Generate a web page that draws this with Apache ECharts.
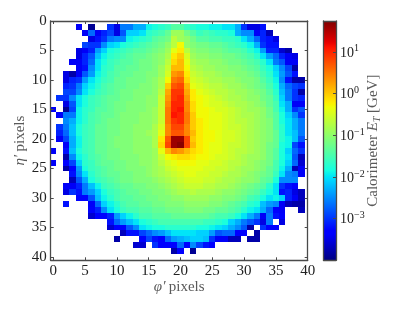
<!DOCTYPE html>
<html><head><meta charset="utf-8">
<style>html,body{margin:0;padding:0;background:#fff}#c{width:399px;height:309px}</style>
<script src="https://cdn.jsdelivr.net/npm/echarts@6/dist/echarts.min.js"></script>
</head><body><div id="c"></div>
<script>
const _ = null;
// log10(ET / GeV) x 10, one array per image row (row index = position + 1), column index = array index
const row01=[_,_,_,_,-34,_,-39,_,_,-30,-35,-26,-26,-23,-23,-19,-18,-17,-16,-14,-14,-16,-17,-18,-18,-19,-19,-20,-20,-23,-30,-35,-35,-32];
const row02=[_,_,_,_,_,-34,-27,-34,-31,-29,-35,-28,-21,-21,-20,-17,-16,-15,-13,-9,-9,-12,-14,-16,-15,-16,-17,-17,-18,-23,-25,-25,-34,-31,-37];
const row03=[_,_,_,_,_,_,-35,-32,-30,-26,-25,-25,-19,-18,-17,-16,-14,-13,-12,-7,-9,-10,-12,-14,-14,-15,-15,-16,-16,-17,-20,-23,-27,-31,-32,-35];
const row04=[_,_,_,_,_,-29,-30,-30,-25,-21,-20,-18,-17,-16,-15,-14,-13,-12,-10,-7,-3,-10,-11,-12,-12,-13,-13,-14,-15,-16,-17,-19,-23,-30,-32,-32];
const row05=[_,_,_,_,-35,-34,-31,-24,-21,-18,-17,-16,-15,-14,-14,-13,-12,-11,-9,-4,-2,-7,-10,-11,-11,-12,-12,-13,-14,-14,-15,-17,-19,-24,-31,-31,-36,-38];
const row06=[_,_,_,_,-35,-31,-28,-22,-19,-17,-16,-15,-14,-13,-13,-12,-11,-10,-8,-2,0,-5,-9,-10,-10,-11,-11,-12,-12,-13,-14,-15,-17,-20,-24,-27,-31,-34,-35];
const row07=[_,_,_,-34,-34,-31,-27,-20,-18,-16,-15,-14,-14,-13,-12,-12,-11,-10,-7,-1,1,-4,-8,-9,-9,-10,-10,-11,-12,-12,-13,-14,-15,-17,-20,-26,-28,-34,-34];
const row08=[_,_,_,_,-34,-32,-25,-20,-17,-16,-14,-14,-13,-13,-12,-12,-11,-9,-6,1,1,-3,-7,-8,-9,-9,-10,-10,-11,-11,-12,-13,-14,-16,-18,-21,-25,-29,-38];
const row09=[_,_,-35,-38,-34,-28,-24,-19,-17,-15,-14,-13,-13,-12,-12,-11,-11,-9,-5,3,4,-2,-6,-7,-8,-8,-9,-10,-10,-11,-11,-12,-13,-15,-17,-20,-24,-28,-32];
const row10=[_,_,-35,-31,-30,-24,-20,-18,-16,-15,-13,-13,-12,-12,-12,-11,-10,-8,-3,5,6,-1,-5,-6,-7,-8,-8,-9,-9,-10,-11,-11,-12,-14,-16,-19,-25,-32,-38,-38];
const row11=[_,_,-31,-30,-26,-21,-19,-17,-15,-14,-13,-13,-12,-12,-11,-11,-10,-8,0,7,8,1,-4,-5,-6,-7,-7,-8,-9,-9,-10,-11,-12,-13,-15,-18,-23,-27,-29,-30];
const row12=[_,_,-29,-29,-25,-20,-18,-16,-15,-14,-13,-12,-12,-11,-11,-11,-10,-7,2,9,9,2,-2,-4,-5,-6,-7,-7,-8,-9,-9,-10,-11,-12,-14,-17,-22,-26,-30,-38];
const row13=[_,-30,-30,-25,-20,-18,-16,-15,-14,-13,-13,-12,-12,-11,-11,-10,-10,-6,3,9,10,3,-2,-3,-4,-5,-6,-7,-8,-8,-9,-10,-10,-12,-13,-16,-21,-26,-30,-31];
const row14=[_,_,-35,-28,-20,-18,-16,-15,-14,-13,-12,-12,-11,-11,-11,-10,-10,-6,4,10,10,4,-1,-3,-4,-5,-5,-6,-7,-8,-8,-9,-10,-11,-13,-15,-20,-23,-34,-34];
const row15=[-34,_,-39,-29,-19,-17,-16,-14,-14,-13,-12,-12,-11,-11,-11,-10,-9,-6,5,10,11,4,-1,-3,-3,-4,-5,-5,-6,-7,-8,-9,-9,-10,-12,-15,-19,-23,-30,-28];
const row16=[_,-34,-26,-26,-19,-17,-15,-14,-13,-13,-12,-11,-11,-11,-10,-10,-9,-6,5,11,10,5,0,-3,-3,-4,-4,-5,-6,-7,-8,-8,-9,-10,-12,-14,-18,-21,-25,-30];
const row17=[_,_,-25,-23,-19,-17,-15,-14,-13,-12,-12,-11,-11,-11,-10,-10,-9,-6,5,9,10,5,0,-2,-3,-4,-4,-5,-6,-7,-7,-8,-9,-10,-11,-14,-18,-20,-23,-26];
const row18=[_,-30,-26,-22,-18,-16,-15,-13,-13,-12,-12,-11,-11,-10,-10,-10,-8,-5,4,8,8,4,0,-2,-3,-4,-4,-5,-6,-6,-7,-8,-9,-10,-11,-14,-17,-20,-23,-26];
const row19=[_,-31,-27,-22,-18,-16,-15,-13,-13,-12,-12,-11,-11,-10,-10,-9,-8,-4,4,7,7,4,1,-2,-3,-3,-4,-5,-5,-6,-7,-8,-9,-10,-11,-13,-17,-20,-22,-26];
const row20=[_,-34,-29,-23,-19,-16,-15,-13,-13,-12,-11,-11,-11,-10,-10,-10,-8,-2,7,16,16,8,0,-2,-3,-3,-4,-5,-5,-6,-7,-8,-9,-10,-11,-13,-17,-19,-22,-28];
const row21=[_,_,-34,-23,-19,-16,-15,-13,-13,-12,-11,-11,-11,-10,-10,-10,-8,-1,8,16,17,8,1,-2,-3,-4,-4,-5,-6,-6,-7,-8,-9,-10,-12,-13,-18,-19,-29,-32];
const row22=[-34,_,-32,-22,-18,-16,-15,-13,-13,-12,-12,-11,-11,-10,-10,-10,-9,-4,1,4,3,1,-1,-2,-3,-4,-4,-5,-6,-7,-7,-8,-9,-10,-12,-14,-18,-21,-27,-30];
const row23=[_,_,-38,-25,-19,-17,-15,-14,-13,-12,-12,-11,-11,-11,-10,-10,-9,-6,-3,-2,-1,-1,-2,-3,-3,-4,-5,-5,-6,-7,-8,-9,-9,-10,-12,-14,-18,-20,-28,-37];
const row24=[-34,_,-33,-29,-21,-17,-16,-14,-13,-13,-12,-12,-11,-11,-10,-10,-9,-7,-5,-4,-3,-3,-3,-4,-4,-5,-5,-6,-7,-7,-8,-9,-10,-11,-12,-15,-18,-21,-27,-36];
const row25=[_,_,-38,-33,-24,-18,-16,-15,-14,-13,-12,-12,-11,-11,-11,-10,-9,-8,-6,-5,-4,-4,-4,-4,-5,-5,-6,-6,-7,-8,-9,-9,-10,-11,-13,-15,-19,-23,-37,-34];
const row26=[_,_,_,-32,-25,-20,-17,-15,-14,-13,-13,-12,-12,-11,-11,-10,-9,-8,-7,-6,-5,-4,-4,-5,-5,-6,-6,-7,-8,-8,-9,-10,-11,-12,-13,-16,-20,-25,-26,-34];
const row27=[_,_,_,-37,-28,-23,-18,-16,-15,-14,-13,-12,-12,-11,-11,-11,-10,-9,-8,-7,-6,-5,-5,-5,-6,-6,-7,-8,-8,-9,-10,-10,-11,-13,-14,-18,-25,-25,-25];
const row28=[_,_,-34,-34,-31,-26,-22,-19,-16,-15,-14,-13,-13,-12,-12,-11,-11,-10,-9,-8,-7,-6,-6,-6,-7,-7,-8,-8,-9,-10,-11,-12,-13,-14,-17,-20,-30,-32,-33];
const row29=[_,_,-35,-30,-32,-26,-24,-21,-18,-16,-15,-14,-13,-13,-12,-12,-11,-11,-10,-9,-8,-8,-7,-8,-8,-8,-9,-10,-10,-11,-12,-13,-14,-16,-18,-20,-32,-31,-35,-37];
const row30=[_,_,_,_,-33,-33,-28,-22,-19,-17,-15,-14,-14,-13,-13,-12,-12,-11,-11,-10,-10,-9,-9,-9,-9,-10,-10,-11,-11,-12,-13,-15,-16,-18,-20,-19,-21,-31,-34,-37];
const row31=[_,_,-32,_,_,_,-34,-27,-21,-19,-17,-15,-14,-14,-13,-13,-12,-12,-11,-11,-11,-10,-10,-10,-10,-11,-11,-12,-13,-14,-15,-17,-18,-22,-24,-25,-34,-37,-38,-38];
const row32=[_,_,_,_,_,_,-33,-31,-25,-20,-18,-16,-15,-15,-14,-14,-13,-13,-12,-12,-12,-11,-11,-11,-12,-12,-13,-13,-14,-15,-17,-19,-20,-23,-27,-33,-34,_,_,-37];
const row33=[_,_,_,_,_,_,-36,-33,-33,-31,-24,-21,-19,-17,-15,-15,-14,-14,-14,-13,-13,-13,-13,-13,-13,-14,-15,-15,-16,-18,-20,-23,-26,-34,-26,-32,-33];
const row34=[_,_,_,_,_,_,_,_,_,-32,-27,-24,-22,-20,-18,-17,-16,-15,-15,-15,-15,-15,-15,-15,-16,-16,-17,-18,-21,-23,-26,-28,-30,-35,-26,_,-35];
const row35=[_,_,_,_,_,_,_,_,_,-36,-33,-33,-28,-25,-20,-19,-18,-18,-17,-17,-17,-17,-17,-18,-18,-19,-20,-21,-23,-25,-28,-38,_,-30,-33,-33];
const row36=[_,_,_,_,_,_,_,_,_,_,_,-37,-32,-32,-29,-27,-25,-24,-22,-20,-20,-20,-20,-21,-21,-24,-28,-27,-27,-33,-33,_,-38];
const row37=[_,_,_,_,_,_,_,_,_,_,-38,_,_,_,-33,-29,-32,-33,-27,-24,-23,-22,-21,-21,-22,-30,-34,-34,-37,-37,_,-38,-38];
const row38=[_,_,_,_,_,_,_,_,_,_,_,_,_,-36,-36,_,-30,-33,-33,-33,-27,-33,-25,-29,-32,-33];
const row39=[_,_,_,_,_,_,_,_,_,_,_,_,_,_,_,_,_,_,_,-38,-33,_,-39];
const imageRows=[row01,row02,row03,row04,row05,row06,row07,row08,row09,row10,row11,row12,row13,row14,row15,row16,row17,row18,row19,row20,row21,row22,row23,row24,row25,row26,row27,row28,row29,row30,row31,row32,row33,row34,row35,row36,row37,row38,row39];

const pixelTicks=[0,5,10,15,20,25,30,35,40];
const colorbarTicks=[-3,-2,-1,0,1];
const logMin=-4, logMax=1.74;

function jet(t){
  const seg=(s,v)=>{for(let i=1;i<s.length;i++){if(t<=s[i]){const f=(t-s[i-1])/(s[i]-s[i-1]||1);return v[i-1]+f*(v[i]-v[i-1]);}}return v[v.length-1];};
  const r=seg([0,.35,.66,.89,1],[0,0,1,1,.5]),g=seg([0,.125,.375,.64,.91,1],[0,0,1,1,0,0]),b=seg([0,.11,.34,.65,1],[.5,1,1,0,0]);
  return 'rgb('+[r,g,b].map(x=>Math.round(x*255)).join(',')+')';
}
const jetColors=[];for(let k=0;k<=128;k++)jetColors.push(jet(k/128));

const cells=[];
imageRows.forEach((r,j)=>r.forEach((v,i)=>{if(v!==null)cells.push([i,j+1,v/10]);}));

const lineC='#4a4a4a', tickC='#222', nameC='#5a5a5a', serif='"Liberation Serif"';
const chart=echarts.init(document.getElementById('c'),null,{renderer:'canvas'});
function pixelAxis(pos,extra){
  const main=pos==='bottom'||pos==='left';
  return Object.assign({type:'value',position:pos,gridIndex:0,z:10,splitLine:{show:false},
    axisLine:{show:true,onZero:false,lineStyle:{color:lineC,width:1.3}},
    axisTick:{show:true,inside:true,length:3,customValues:pixelTicks,lineStyle:{color:lineC,width:1}},
    axisLabel:{show:main,customValues:pixelTicks,color:tickC,fontFamily:serif,fontSize:15,margin:pos==='bottom'?3:4}},extra);
}
const xRange={min:-0.41,max:40}, yRange={min:0,max:40.55,inverse:true};
const pixelRich={i:{fontFamily:serif,fontStyle:'italic',fontSize:15,color:nameC},t:{fontFamily:serif,fontSize:15,color:nameC}};
function sup(v){return '{b|10}{s|'+String(v).replace('-','\u2212')+'}';}
function frameX(pos){return {type:'value',gridIndex:1,position:pos,min:0,max:1,z:10,axisLine:{show:true,onZero:false,lineStyle:{color:lineC,width:1.3}},axisTick:{show:false},axisLabel:{show:false},splitLine:{show:false}};}
chart.setOption({
  animation:false,backgroundColor:'#fff',
  grid:[{left:50.7,top:21,width:257,height:239.3,containLabel:false},{left:323.5,top:21,width:12.5,height:239.3}],
  visualMap:{show:false,type:'continuous',seriesIndex:0,dimension:2,min:logMin,max:logMax,inRange:{color:jetColors}},
  xAxis:[
    pixelAxis('bottom',Object.assign({},xRange,{name:'{i|\u03c6\u2032} {t|pixels}',nameLocation:'middle',nameGap:19,nameMoveOverlap:false,nameTextStyle:{rich:pixelRich}})),
    pixelAxis('top',xRange),
    frameX('bottom'),
    frameX('top')
  ],
  yAxis:[
    pixelAxis('left',Object.assign({},yRange,{name:'{i|\u03b7\u2032} {t|pixels}',nameLocation:'middle',nameGap:23,nameMoveOverlap:false,nameRotate:90,nameTextStyle:{rich:pixelRich}})),
    pixelAxis('right',yRange),
    {type:'value',gridIndex:1,position:'left',min:logMin,max:logMax,z:10,axisLine:{show:true,onZero:false,lineStyle:{color:lineC,width:1.3}},axisTick:{show:false},axisLabel:{show:false},splitLine:{show:false}},
    {type:'value',gridIndex:1,position:'right',min:logMin,max:logMax,z:10,splitLine:{show:false},
      axisLine:{show:true,onZero:false,lineStyle:{color:lineC,width:1.3}},
      axisTick:{show:true,inside:true,length:3,customValues:colorbarTicks,lineStyle:{color:lineC,width:1}},
      axisLabel:{show:true,customValues:colorbarTicks,margin:4,align:'left',formatter:v=>sup(v),
        rich:{b:{fontFamily:serif,fontSize:14,color:tickC,verticalAlign:'bottom',lineHeight:16},s:{fontFamily:serif,fontSize:10,color:tickC,verticalAlign:'top',lineHeight:16}}},
      name:'Calorimeter {i|E}{u|T} [GeV]',nameLocation:'middle',nameGap:28,nameMoveOverlap:false,nameRotate:90,
      nameTextStyle:{fontFamily:serif,fontSize:15,color:nameC,rich:{i:{fontFamily:serif,fontStyle:'italic',fontSize:15,color:nameC},u:{fontFamily:serif,fontStyle:'italic',fontSize:10,color:nameC,verticalAlign:'bottom',lineHeight:18}}}}
  ],
  series:[
    {type:'custom',xAxisIndex:0,yAxisIndex:0,coordinateSystem:'cartesian2d',silent:true,encode:{x:0,y:1},data:cells,
      renderItem(params,api){
        const x=api.value(0),y=api.value(1);
        const a=api.coord([x-0.5,y-0.5]),b=api.coord([x+0.5,y+0.5]);
        const x0=Math.round(a[0]),y0=Math.round(a[1]),x1=Math.round(b[0]),y1=Math.round(b[1]);
        return {type:'rect',shape:{x:x0,y:y0,width:x1-x0,height:y1-y0},style:{fill:api.visual('color')}};
      }},
    {type:'custom',xAxisIndex:2,yAxisIndex:2,coordinateSystem:'cartesian2d',silent:true,encode:{x:0,y:1},data:[[0,logMin,1,logMax]],
      renderItem(params,api){
        const a=api.coord([api.value(0),api.value(3)]),b=api.coord([api.value(2),api.value(1)]);
        const stops=jetColors.map((c,k)=>({offset:k/(jetColors.length-1),color:c}));
        return {type:'rect',shape:{x:a[0],y:a[1],width:b[0]-a[0],height:b[1]-a[1]},
          style:{fill:new echarts.graphic.LinearGradient(0,1,0,0,stops)}};
      }}
  ]
});
</script></body></html>
